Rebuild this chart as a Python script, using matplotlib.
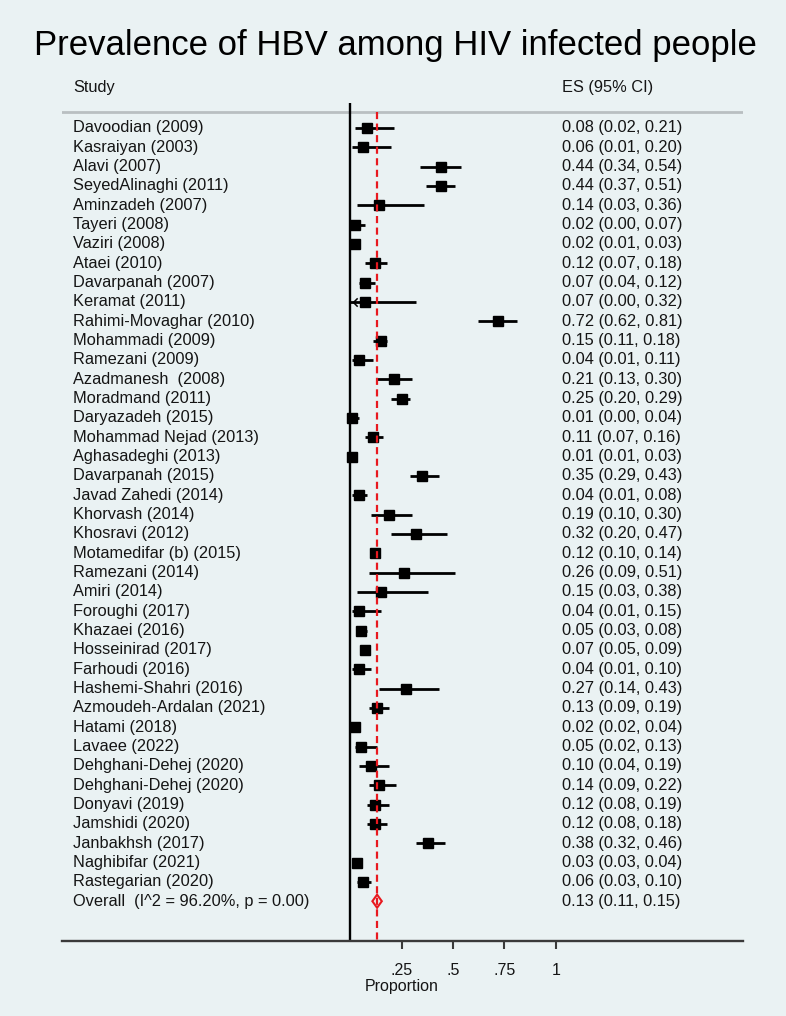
import matplotlib
matplotlib.use("Agg")
import matplotlib.pyplot as plt
from matplotlib.path import Path

studies = [
    "Davoodian (2009)", "Kasraiyan (2003)", "Alavi (2007)", "SeyedAlinaghi (2011)",
    "Aminzadeh (2007)", "Tayeri (2008)", "Vaziri (2008)", "Ataei (2010)",
    "Davarpanah (2007)", "Keramat (2011)", "Rahimi-Movaghar (2010)", "Mohammadi (2009)",
    "Ramezani (2009)", "Azadmanesh  (2008)", "Moradmand (2011)", "Daryazadeh (2015)",
    "Mohammad Nejad (2013)", "Aghasadeghi (2013)", "Davarpanah (2015)", "Javad Zahedi (2014)",
    "Khorvash (2014)", "Khosravi (2012)", "Motamedifar (b) (2015)", "Ramezani (2014)",
    "Amiri (2014)", "Foroughi (2017)", "Khazaei (2016)", "Hosseinirad (2017)",
    "Farhoudi (2016)", "Hashemi-Shahri (2016)", "Azmoudeh-Ardalan (2021)", "Hatami (2018)",
    "Lavaee (2022)", "Dehghani-Dehej (2020)", "Dehghani-Dehej (2020)", "Donyavi (2019)",
    "Jamshidi (2020)", "Janbakhsh (2017)", "Naghibifar (2021)", "Rastegarian (2020)",
]
es = [0.08, 0.06, 0.44, 0.44, 0.14, 0.02, 0.02, 0.12, 0.07, 0.07, 0.72, 0.15, 0.04,
      0.21, 0.25, 0.01, 0.11, 0.01, 0.35, 0.04, 0.19, 0.32, 0.12, 0.26, 0.15, 0.04,
      0.05, 0.07, 0.04, 0.27, 0.13, 0.02, 0.05, 0.10, 0.14, 0.12, 0.12, 0.38, 0.03, 0.06]
lo = [0.02, 0.01, 0.34, 0.37, 0.03, 0.00, 0.01, 0.07, 0.04, 0.00, 0.62, 0.11, 0.01,
      0.13, 0.20, 0.00, 0.07, 0.01, 0.29, 0.01, 0.10, 0.20, 0.10, 0.09, 0.03, 0.01,
      0.03, 0.05, 0.01, 0.14, 0.09, 0.02, 0.02, 0.04, 0.09, 0.08, 0.08, 0.32, 0.03, 0.03]
hi = [0.21, 0.20, 0.54, 0.51, 0.36, 0.07, 0.03, 0.18, 0.12, 0.32, 0.81, 0.18, 0.11,
      0.30, 0.29, 0.04, 0.16, 0.03, 0.43, 0.08, 0.30, 0.47, 0.14, 0.51, 0.38, 0.15,
      0.08, 0.09, 0.10, 0.43, 0.19, 0.04, 0.13, 0.19, 0.22, 0.19, 0.18, 0.46, 0.04, 0.10]
weights = [2.5, 2.5, 2.5, 2.5, 2.5, 2.3, 2.6, 2.5, 2.5, 2.4, 2.5, 2.6, 2.5,
           2.5, 2.6, 2.5, 2.5, 2.5, 2.6, 2.5, 2.5, 2.5, 2.6, 2.4, 2.4, 2.5,
           2.6, 2.6, 2.5, 2.5, 2.6, 2.6, 2.5, 2.5, 2.5, 2.6, 2.6, 2.6, 2.6, 2.4]
overall_label = "Overall  (I^2 = 96.20%, p = 0.00)"
overall_es, overall_lo, overall_hi = 0.13, 0.11, 0.15
xticks = [0.25, 0.5, 0.75, 1.0]
xticklabels = [".25", ".5", ".75", "1"]

BG = "#EAF2F3"
FONT = "Liberation Sans"
TXT = "#151515"
plt.rcParams["font.family"] = [FONT, "DejaVu Sans"]

W, H = 786, 1016
fig = plt.figure(figsize=(W / 100, H / 100), dpi=100, facecolor=BG)
left_px, right_px, top_px, bot_px = 62, 743, 103, 941
ax = fig.add_axes([left_px / W, 1 - bot_px / H, (right_px - left_px) / W, (bot_px - top_px) / H])
ax.set_facecolor(BG)

x0_px, scale = 350.4, 205.3
ax.set_xlim((left_px - x0_px) / scale, (right_px - x0_px) / scale)
row0_px, row_h = 128, 19.33
ax.set_ylim((bot_px - row0_px) / row_h, (top_px - row0_px) / row_h)
header_y = (112 - row0_px) / row_h

n = len(studies)
rows = list(range(n))

# reference lines
ax.axvline(0, color="black", lw=1.7, zorder=2)
ax.axhline(header_y, color="#b9bfc1", lw=2.0, zorder=1)
ax.vlines(overall_es, header_y, ax.get_ylim()[0], colors="#e8191f", lw=1.6,
          linestyles=(0, (3.2, 2.0)), zorder=5)

# CIs and squares
for i in rows:
    ax.plot([lo[i], hi[i]], [i, i], color="black", lw=2.0, solid_capstyle="butt", zorder=3)
    ms = 7.4 * (weights[i] / 2.5) ** 0.5
    ax.plot(es[i], i, marker="s", ms=ms, color="black", mec="black", zorder=4)

# arrow for clipped CI (Keramat)
arrow = Path([(1, 1), (0, 0), (1, -1)], [Path.MOVETO, Path.LINETO, Path.LINETO])
k = studies.index("Keramat (2011)")
ax.plot(lo[k] + 0.012, k, marker=arrow, ms=6, mfc="none", mec="black", mew=1.1, zorder=4)

# overall diamond
oy = n
hd = 0.34
ax.fill([overall_lo - 0.003, overall_es, overall_hi + 0.003, overall_es],
        [oy, oy - hd, oy, oy + hd],
        facecolor="none", edgecolor="#e8191f", lw=1.5, zorder=6)

# text columns
lab_x = (73 - x0_px) / scale
es_x = (562 - x0_px) / scale
fs = 11.8
for i in rows:
    ax.text(lab_x, i, studies[i], fontsize=fs, va="center", ha="left", color=TXT)
    ax.text(es_x, i, f"{es[i]:.2f} ({lo[i]:.2f}, {hi[i]:.2f})", fontsize=fs,
            va="center", ha="left", color=TXT)
ax.text(lab_x, oy, overall_label, fontsize=fs, va="center", ha="left", color=TXT)
ax.text(es_x, oy, f"{overall_es:.2f} ({overall_lo:.2f}, {overall_hi:.2f})", fontsize=fs,
        va="center", ha="left", color=TXT)

hy = (88 - row0_px) / row_h
ax.text(lab_x, hy, "Study", fontsize=fs, va="center", ha="left", color=TXT, clip_on=False)
ax.text(es_x, hy, "ES (95% CI)", fontsize=fs, va="center", ha="left", color=TXT, clip_on=False)

# axes styling
for s in ["top", "left", "right"]:
    ax.spines[s].set_visible(False)
ax.spines["bottom"].set_color("#3a3a3a")
ax.spines["bottom"].set_linewidth(1.7)
ax.set_yticks([])
ax.set_xticks(xticks)
ax.set_xticklabels(xticklabels, fontsize=11.5, color=TXT)
ax.tick_params(axis="x", length=6, width=1.5, color="#3a3a3a", pad=10)
ax.set_xlabel("Proportion", fontsize=11.5, color=TXT, labelpad=1)
ax.xaxis.set_label_coords((402 - left_px) / (right_px - left_px), -0.045)

fig.text(395 / W, 1 - 46 / H, "Prevalence of HBV among HIV infected people",
         fontsize=25, ha="center", va="center", color="black")

fig.savefig("out.png", dpi=100, facecolor=BG)
